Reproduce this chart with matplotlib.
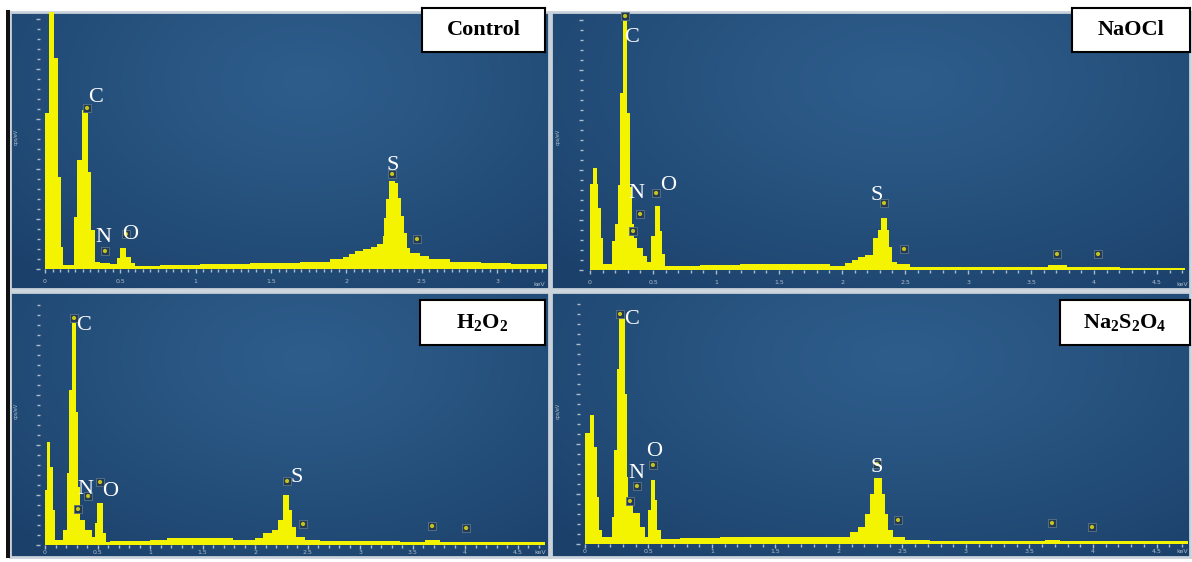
import numpy as np
import matplotlib
matplotlib.use('Agg')
import matplotlib.pyplot as plt
from matplotlib.patches import Rectangle

plt.rcParams['mathtext.fontset'] = 'custom'
plt.rcParams['mathtext.rm'] = 'Liberation Serif'
plt.rcParams['mathtext.bf'] = 'Liberation Serif:bold'

# ---------------- data (energy keV, intensity a.u.) ----------------
ctrl_keV = [0.000, 0.027, 0.060, 0.086, 0.106, 0.119, 0.192, 0.212, 0.246, 0.265, 0.285, 0.305,
            0.332, 0.365, 0.431, 0.478, 0.498, 0.537, 0.571, 0.597, 0.763, 1.03, 1.36, 1.69,
            1.89, 1.98, 2.02, 2.06, 2.11, 2.16, 2.20, 2.24, 2.25, 2.26, 2.28, 2.32, 2.34, 2.36,
            2.38, 2.40, 2.42, 2.49, 2.55, 2.69, 2.89, 3.09, 3.34]
ctrl_cnt = [156, 300, 211, 92, 22, 4, 52, 109, 159, 156, 97, 39,
            7, 6, 5, 11, 21, 12, 6, 3, 4, 5, 6, 7,
            10, 12, 15, 18, 20, 22, 25, 33, 51, 70, 88, 86, 71, 53,
            36, 21, 16, 13, 10, 7, 6, 5, 5]

naocl_keV = [0.000, 0.024, 0.056, 0.063, 0.087, 0.103, 0.175, 0.198, 0.222, 0.238, 0.262, 0.294,
             0.317, 0.333, 0.349, 0.373, 0.421, 0.452, 0.484, 0.516, 0.556, 0.571, 0.595, 0.873,
             1.19, 1.667, 1.905, 2.024, 2.079, 2.127, 2.183, 2.246, 2.286, 2.310, 2.357, 2.373,
             2.397, 2.437, 2.54, 3.254, 3.635, 3.786, 4.206, 4.722]
naocl_cnt = [86, 102, 86, 62, 32, 6, 29, 46, 85, 177, 249, 157,
             83, 46, 32, 22, 14, 8, 34, 64, 39, 16, 4, 5,
             6, 6, 4, 7, 10, 13, 15, 32, 40, 52, 40, 23,
             8, 6, 3, 3, 5, 3, 2, 2]

h2o2_keV = [0.000, 0.019, 0.048, 0.076, 0.095, 0.171, 0.210, 0.229, 0.257, 0.295, 0.314, 0.333,
            0.381, 0.448, 0.476, 0.495, 0.552, 0.581, 0.619, 1.0, 1.162, 1.79, 2.0, 2.076,
            2.162, 2.219, 2.267, 2.324, 2.352, 2.39, 2.476, 2.619, 3.381, 3.619, 3.762, 4.762]
h2o2_cnt = [55, 103, 78, 35, 5, 15, 72, 155, 222, 133, 58, 25,
            15, 8, 22, 42, 12, 3, 4, 5, 7, 5, 7, 12,
            15, 25, 50, 35, 18, 8, 5, 4, 3, 5, 3, 3]

nadt_keV = [0.000, 0.039, 0.071, 0.094, 0.110, 0.134, 0.213, 0.228, 0.252, 0.268, 0.315, 0.331,
            0.339, 0.378, 0.433, 0.472, 0.496, 0.520, 0.551, 0.567, 0.598, 0.748, 1.063, 1.693,
            2.008, 2.087, 2.150, 2.205, 2.244, 2.276, 2.339, 2.362, 2.386, 2.425, 2.520, 2.717,
            3.622, 3.740, 4.748]
nadt_cnt = [111, 129, 97, 47, 14, 7, 27, 94, 175, 226, 150, 67,
            44, 31, 17, 7, 34, 64, 44, 14, 5, 6, 7, 7,
            7, 12, 17, 30, 50, 66, 50, 30, 14, 7, 4, 3,
            4, 3, 2]

# element peak markers (keV, intensity)
ctrl_mk = ([0.279, 0.398, 0.537, 2.303, 2.468], [157, 14, 31, 91, 26])
naocl_mk = ([0.278, 0.341, 0.397, 0.524, 2.333, 2.492, 3.706, 4.032], [250, 35, 52, 73, 63, 17, 12, 12])
h2o2_mk = ([0.276, 0.314, 0.410, 0.524, 2.305, 2.457, 3.686, 4.010], [223, 32, 45, 59, 60, 17, 15, 13])
nadt_mk = ([0.276, 0.354, 0.409, 0.535, 2.299, 2.465, 3.677, 3.992], [226, 39, 54, 75, 76, 20, 17, 13])

elements = ['C', 'N', 'O', 'S']
ctrl_lab = ([0.338, 0.385, 0.564, 2.309], [171, 32, 35, 104])
naocl_lab = ([0.333, 0.365, 0.619, 2.278], [232, 76, 84, 75])
h2o2_lab = ([0.371, 0.381, 0.619, 2.400], [219, 56, 53, 67])
nadt_lab = ([0.370, 0.402, 0.543, 2.299], [224, 71, 92, 77])

titles = ['Control', 'NaOCl', r'$\mathbf{H_2O_2}$', r'$\mathbf{Na_2S_2O_4}$']

# ---------------- layout ----------------
W, H = 1192, 562
fig = plt.figure(figsize=(W / 100, H / 100), dpi=100)
fig.patch.set_facecolor('white')


def box(x0, y0, x1, y1):
    return [x0 / W, 1 - y1 / H, (x1 - x0) / W, (y1 - y0) / H]


def gradient(nx=300, ny=150):
    yy, xx = np.mgrid[0:1:ny * 1j, 0:1:nx * 1j]
    d = np.sqrt(((xx - 0.55) / 0.75) ** 2 + ((yy - 0.25) / 0.95) ** 2)
    t = np.clip(d, 0, 1) ** 1.2
    inner = np.array([0x2e, 0x5d, 0x8b]) / 255
    outer = np.array([0x1b, 0x41, 0x6b]) / 255
    return inner * (1 - t[..., None]) + outer * t[..., None]


panels = [
    dict(pbox=(10, 12, 549, 289), dbox=(40, 12, 546, 269), xlim=(-0.033, 3.324), ylim=(0, 257),
         ticks=[0, 0.5, 1, 1.5, 2, 2.5, 3], minor=0.05, kev=3.28, pad=4, kevy=-13,
         x=ctrl_keV, y=ctrl_cnt, mk=ctrl_mk, lab=ctrl_lab, title=titles[0], tbox=(422, 8, 545, 52)),
    dict(pbox=(551, 12, 1190, 289), dbox=(583, 12, 1186, 270), xlim=(-0.056, 4.730), ylim=(0, 258),
         ticks=[0, 0.5, 1, 1.5, 2, 2.5, 3, 3.5, 4, 4.5], minor=0.1, kev=4.70, pad=4, kevy=-12,
         x=naocl_keV, y=naocl_cnt, mk=naocl_mk, lab=naocl_lab, title=titles[1], tbox=(1072, 8, 1190, 52)),
    dict(pbox=(10, 292, 549, 557), dbox=(40, 296, 546, 545), xlim=(-0.048, 4.771), ylim=(0, 249),
         ticks=[0, 0.5, 1, 1.5, 2, 2.5, 3, 3.5, 4, 4.5], minor=0.1, kev=4.72, pad=0.5, kevy=-5,
         x=h2o2_keV, y=h2o2_cnt, mk=h2o2_mk, lab=h2o2_lab, title=titles[2], tbox=(420, 300, 545, 345)),
    dict(pbox=(551, 292, 1190, 557), dbox=(580, 296, 1188, 544), xlim=(-0.039, 4.748), ylim=(0, 248),
         ticks=[0, 0.5, 1, 1.5, 2, 2.5, 3, 3.5, 4, 4.5], minor=0.1, kev=4.70, pad=0.5, kevy=-5,
         x=nadt_keV, y=nadt_cnt, mk=nadt_mk, lab=nadt_lab, title=titles[3], tbox=(1060, 300, 1190, 345)),
]

tick_col = '#aebdcc'
for p in panels:
    bg = fig.add_axes(box(*p['pbox']))
    bg.imshow(gradient(), aspect='auto', extent=(0, 1, 0, 1), origin='upper')
    bg.set_xlim(0, 1)
    bg.set_ylim(0, 1)
    bg.set_xticks([])
    bg.set_yticks([])
    for s in bg.spines.values():
        s.set_color('#c9d2da')
        s.set_linewidth(2)
    bg.text(0.012, 0.55, 'cps/eV', rotation=90, fontsize=3.5, color=tick_col,
            transform=bg.transAxes, ha='center', va='center')

    ax = fig.add_axes(box(*p['dbox']))
    ax.patch.set_alpha(0)
    x = list(p['x'])
    y = list(p['y'])
    ax.fill_between(x, 0, y, step='post', color='#f4f400', linewidth=0)
    ax.set_xlim(*p['xlim'])
    ax.set_ylim(*p['ylim'])
    for s in ax.spines.values():
        s.set_visible(False)
    ax.set_xticks(p['ticks'])
    ax.set_xticklabels([('%g' % t) for t in p['ticks']])
    ax.set_xticks(np.arange(0, p['xlim'][1], p['minor']), minor=True)
    ax.tick_params(axis='x', which='both', direction='out', colors=tick_col, labelsize=4.5,
                   length=3, width=1, pad=p['pad'])
    ax.tick_params(axis='x', which='minor', length=2)
    ax.text(p['kev'], p['kevy'], 'keV', fontsize=4.5, color=tick_col, ha='center', va='top')
    ax.set_yticks(np.arange(0, p['ylim'][1], 50))
    ax.set_yticks(np.arange(0, p['ylim'][1], 10), minor=True)
    ax.set_yticklabels([])
    ax.tick_params(axis='y', which='both', direction='out', colors=tick_col, length=2, width=1, pad=2)
    ax.tick_params(axis='y', which='major', length=3)

    mx, my = p['mk']
    ax.scatter(mx, [v + 4 for v in my], marker='s', s=40, facecolor='#233a52',
               edgecolor='#5d7588', linewidth=0.6, zorder=5, clip_on=False)
    ax.scatter(mx, [v + 4 for v in my], marker='o', s=9, facecolor='#c4c41c',
               edgecolor='none', zorder=6, clip_on=False)

    lx, ly = p['lab']
    for el, a, b in zip(elements, lx, ly):
        ax.text(a, b, el, fontsize=16, color='white', family='Liberation Serif',
                ha='center', va='center', zorder=7)

    tx0, ty0, tx1, ty1 = p['tbox']
    tb = fig.add_axes(box(tx0, ty0, tx1, ty1))
    tb.set_xticks([])
    tb.set_yticks([])
    tb.set_facecolor('white')
    for s in tb.spines.values():
        s.set_color('black')
        s.set_linewidth(1.5)
    tb.text(0.5, 0.5, p['title'], fontsize=16, fontweight='bold', family='Liberation Serif',
            ha='center', va='center', transform=tb.transAxes)

fig.add_artist(Rectangle((6 / W, 1 - 558 / H), 4 / W, 548 / H, transform=fig.transFigure,
                         facecolor='#111111', edgecolor='none'))

fig.savefig('out.png', dpi=100)
